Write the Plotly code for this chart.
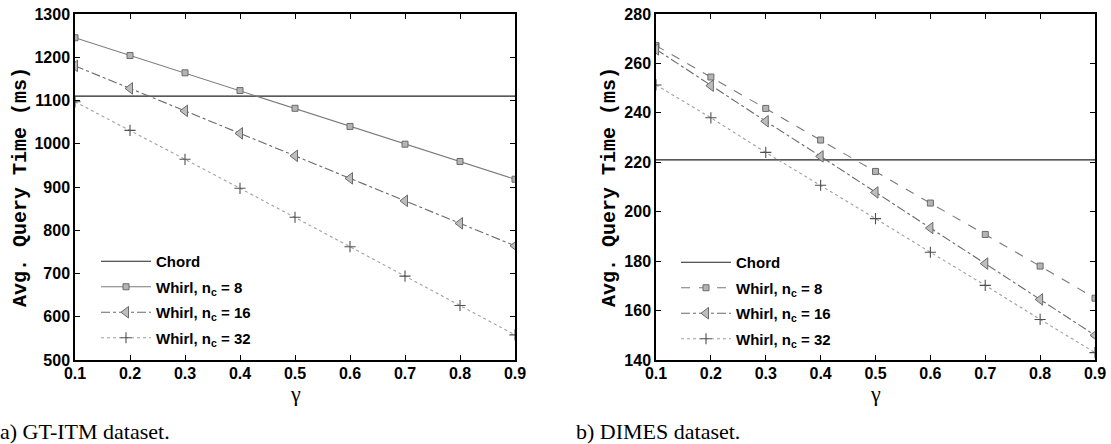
import plotly.graph_objects as go

gamma = [0.1, 0.2, 0.3, 0.4, 0.5, 0.6, 0.7, 0.8, 0.9]

# (a) GT-ITM dataset
gt_chord = 1110
gt_nc8 = [1245, 1204, 1164, 1123, 1082, 1040, 999, 959, 918]
gt_nc16 = [1180, 1128, 1076, 1024, 972, 920, 868, 816, 764]
gt_nc32 = [1097, 1031, 964, 897, 830, 762, 694, 626, 558]

# (b) DIMES dataset
di_chord = 221
di_nc8 = [267.2, 254.5, 241.8, 229.0, 216.3, 203.5, 190.8, 178.0, 165.0]
di_nc16 = [265.7, 251.0, 236.6, 222.4, 207.8, 193.4, 179.0, 164.5, 150.0]
di_nc32 = [251.3, 238.0, 224.0, 210.7, 197.2, 183.6, 170.2, 156.4, 143.0]

series_names = ["Chord", "Whirl, n<sub>c</sub> = 8", "Whirl, n<sub>c</sub> = 16", "Whirl, n<sub>c</sub> = 32"]
x_ticks = [0.1, 0.2, 0.3, 0.4, 0.5, 0.6, 0.7, 0.8, 0.9]
gt_yticks = [500, 600, 700, 800, 900, 1000, 1100, 1200, 1300]
di_yticks = [140, 160, 180, 200, 220, 240, 260, 280]

W, H = 1111, 444
SANS = "Liberation Sans"

fig = go.Figure()


def add_panel(xa, ya, legend, tag, chord, s8, s16, s32, dash8):
    fig.add_trace(go.Scatter(
        x=[gamma[0], gamma[-1]], y=[chord, chord], mode="lines", name=series_names[0],
        line=dict(color="#222222", width=1.2), xaxis=xa, yaxis=ya, legend=legend,
        legendgroup=tag + "0"))
    fig.add_trace(go.Scatter(
        x=gamma, y=s8, mode="lines+markers", name=series_names[1],
        line=dict(color="#7a7a7a", width=1.1, dash=dash8),
        marker=dict(symbol="square", size=6, color="#b4b4b4", line=dict(color="#6a6a6a", width=1)),
        xaxis=xa, yaxis=ya, legend=legend, legendgroup=tag + "1"))
    fig.add_trace(go.Scatter(
        x=gamma, y=s16, mode="lines+markers", name=series_names[2],
        line=dict(color="#6a6a6a", width=1.1, dash="dashdot"),
        marker=dict(symbol="triangle-left", size=10, color="#bdbdbd", line=dict(color="#6a6a6a", width=1)),
        xaxis=xa, yaxis=ya, legend=legend, legendgroup=tag + "2"))
    fig.add_trace(go.Scatter(
        x=gamma, y=s32, mode="lines+markers", name=series_names[3],
        line=dict(color="#a0a0a0", width=1.1, dash="dot"),
        marker=dict(symbol="cross-thin", size=8, color="#505050", line=dict(color="#505050", width=1.1)),
        xaxis=xa, yaxis=ya, legend=legend, legendgroup=tag + "3"))


add_panel("x", "y", "legend", "a", gt_chord, gt_nc8, gt_nc16, gt_nc32, "solid")
add_panel("x2", "y2", "legend2", "b", di_chord, di_nc8, di_nc16, di_nc32, "dash")

ydom = [1 - 360 / H, 1 - 14 / H]
tickfont = dict(family=SANS, size=16, weight="bold", color="black")
axis_common = dict(showline=True, linecolor="black", linewidth=1.5, mirror="ticks",
                   ticks="inside", ticklen=5, tickwidth=1.2, tickcolor="black",
                   showgrid=False, zeroline=False, tickfont=tickfont, automargin=False,
                   ticklabeloverflow="allow")

legfont = dict(family=SANS, size=15, weight="bold", color="black")

fig.update_layout(
    width=W, height=H, margin=dict(l=0, r=0, t=0, b=0, autoexpand=False),
    font=dict(family=SANS, size=15, weight="bold", color="black"),
    paper_bgcolor="white", plot_bgcolor="white", showlegend=True,
    xaxis=dict(domain=[75 / W, 515 / W], range=[0.1, 0.9], tickvals=x_ticks,
               ticktext=[f"{v:.1f}" for v in x_ticks], ticklabelstandoff=-2, **axis_common),
    yaxis=dict(domain=ydom, range=[500, 1300], tickvals=gt_yticks, ticklabelstandoff=0, **axis_common),
    xaxis2=dict(domain=[656 / W, 1095 / W], range=[0.1, 0.9], tickvals=x_ticks,
                ticktext=[f"{v:.1f}" for v in x_ticks], anchor="y2",
                ticklabelstandoff=-2, **axis_common),
    yaxis2=dict(domain=ydom, range=[140, 280], tickvals=di_yticks, anchor="x2",
                ticklabelstandoff=0, **axis_common),
    legend=dict(x=96 / W, y=1 - 245 / H, xanchor="left", yanchor="top", bgcolor="rgba(0,0,0,0)",
                font=legfont, itemwidth=50, tracegroupgap=3),
    legend2=dict(x=676 / W, y=1 - 246 / H, xanchor="left", yanchor="top", bgcolor="rgba(0,0,0,0)",
                 font=legfont, itemwidth=50, tracegroupgap=3),
)

ytitle_font = dict(family="Liberation Mono", size=20, weight="bold", color="black")
for xpx in (20, 609):
    fig.add_annotation(text="Avg. Query Time (ms)", x=xpx / W, y=1 - 187 / H, xref="paper", yref="paper",
                       textangle=-90, showarrow=False, font=ytitle_font, xanchor="center", yanchor="middle")

gfont = dict(family="Liberation Serif", size=22, weight="normal", color="black")
for xpx in (295, 875):
    fig.add_annotation(text="γ", x=xpx / W, y=1 - 393 / H, xref="paper", yref="paper",
                       showarrow=False, font=gfont, xanchor="center", yanchor="middle")

cap_font = dict(family="Liberation Serif", size=22, weight="normal", color="black")
fig.add_annotation(text="a) GT-ITM dataset.", x=-2 / W, y=1 - 431 / H, xref="paper", yref="paper",
                   showarrow=False, font=cap_font, xanchor="left", yanchor="middle")
fig.add_annotation(text="b) DIMES dataset.", x=574 / W, y=1 - 431 / H, xref="paper", yref="paper",
                   showarrow=False, font=cap_font, xanchor="left", yanchor="middle")

# remove the page's default 8px body margin so the figure fills the window exactly
fig.write_html("out.html", config={"displayModeBar": False},
               post_script="document.body.style.margin='0px';document.body.style.overflow='hidden';")
